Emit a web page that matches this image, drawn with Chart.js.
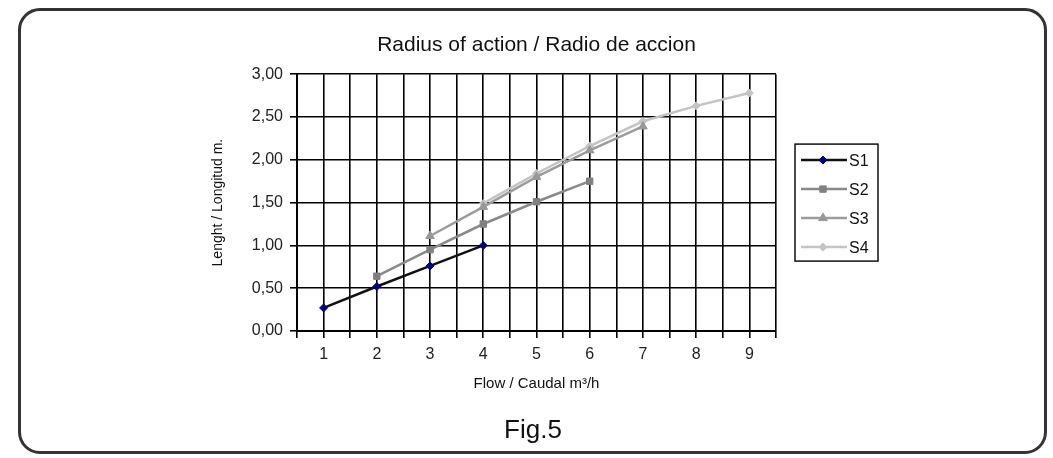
<!DOCTYPE html>
<html>
<head>
<meta charset="utf-8">
<script src="https://cdn.jsdelivr.net/npm/chart.js@4/dist/chart.umd.min.js"></script>
<style>
  html, body { margin: 0; padding: 0; background: #fff; }
  #wrap { position: relative; width: 1053px; height: 458px; overflow: hidden; }
  #frame {
    position: absolute; left: 18px; top: 8px; width: 1029px; height: 446px;
    border: 3px solid #333; border-radius: 22px; box-sizing: border-box;
  }
  #fig {
    position: absolute; left: 433px; top: 414px; width: 200px; line-height: 30px;
    text-align: center; font: 26px "Liberation Sans", Arial, sans-serif; color: #111;
  }
  #chart { position: absolute; left: 0; top: 0; }
</style>
</head>
<body>
<div id="wrap">
  <div id="frame"></div>
  <canvas id="chart" width="1053" height="458"></canvas>
  <div id="fig">Fig.5</div>
</div>
<script>
// flow values (m3/h) and length (m) per series, null = no point
let flow = [1, 2, 3, 4, 5, 6, 7, 8, 9];
let s1 = [0.27, 0.52, 0.76, 1.00, null, null, null, null, null];
let s2 = [null, 0.64, 0.95, 1.25, 1.51, 1.75, null, null, null];
let s3 = [null, null, 1.11, 1.45, 1.80, 2.11, 2.39, null, null];
let s4 = [null, null, null, 1.49, 1.84, 2.16, 2.45, 2.63, 2.78];
let seriesNames = ['S1', 'S2', 'S3', 'S4'];

function points(arr) {
    let out = [];
    arr.forEach((v, i) => { if (v !== null) out.push({ x: flow[i], y: v }); });
    return out;
}

Chart.defaults.font.family = '"Liberation Sans", Arial, sans-serif';
Chart.defaults.color = '#222';

// legend box with line + marker samples, like the old spreadsheet one
const boxLegend = {
    id: 'boxLegend',
    afterDraw(chart) {
        const ctx = chart.ctx;
        const area = chart.chartArea;
        const x0 = area.right + 19, w = 83, h = 117;
        const y0 = (area.top + area.bottom) / 2 - h / 2;
        ctx.save();
        ctx.fillStyle = '#fff';
        ctx.fillRect(x0, y0, w, h);
        ctx.strokeStyle = '#111';
        ctx.lineWidth = 1.5;
        ctx.strokeRect(x0, y0, w, h);
        chart.data.datasets.forEach((ds, i) => {
            const y = y0 + 16 + i * 29;
            ctx.strokeStyle = ds.borderColor;
            ctx.lineWidth = ds.borderWidth;
            ctx.beginPath();
            ctx.moveTo(x0 + 6, y);
            ctx.lineTo(x0 + 52, y);
            ctx.stroke();
            ctx.fillStyle = ds.pointBackgroundColor;
            ctx.strokeStyle = ds.pointBorderColor;
            ctx.lineWidth = 1;
            Chart.helpers.drawPoint(ctx, {
                pointStyle: ds.pointStyle, radius: ds.pointRadius, rotation: 0, borderWidth: 1
            }, x0 + 28, y);
            ctx.fillStyle = '#111';
            ctx.font = '16px "Liberation Sans", Arial, sans-serif';
            ctx.textBaseline = 'middle';
            ctx.fillText(ds.label, x0 + 54, y + 1);
        });
        ctx.restore();
    }
};

function series(i, data, line, marker, style, r) {
    return {
        label: seriesNames[i],
        data: points(data),
        borderColor: line,
        borderWidth: 2.5,
        pointStyle: style,
        pointRadius: r,
        pointHoverRadius: r,
        pointBackgroundColor: marker,
        pointBorderColor: marker,
        pointBorderWidth: 1,
        fill: false,
        tension: 0
    };
}

new Chart(document.getElementById('chart'), {
    type: 'line',
    data: {
        datasets: [
            series(0, s1, '#111111', '#000080', 'rectRot', 4),
            series(1, s2, '#8a8a8a', '#808080', 'rect', 4.5),
            series(2, s3, '#9c9c9c', '#989898', 'triangle', 5),
            series(3, s4, '#c4c4c4', '#c4c4c4', 'rectRot', 4)
        ]
    },
    options: {
        responsive: false,
        animation: false,
        layout: { padding: { left: 200, right: 277, top: 0, bottom: 55 } },
        plugins: {
            legend: { display: false },
            tooltip: { enabled: false },
            title: {
                display: true,
                fullSize: false,
                text: 'Radius of action / Radio de accion',
                font: { size: 21, weight: 'normal' },
                color: '#111',
                padding: { top: 33, bottom: 16 }
            }
        },
        scales: {
            x: {
                type: 'linear',
                min: 0.5,
                max: 9.5,
                afterFit: (s) => { s.height = 72; },
                ticks: {
                    stepSize: 0.5,
                    autoSkip: false,
                    maxRotation: 0,
                    padding: 7,
                    font: { size: 16 },
                    callback: (v) => Number.isInteger(v) ? String(v) : ''
                },
                grid: { color: '#000', lineWidth: 1.6, tickLength: 7 },
                border: { color: '#000', width: 2 },
                title: {
                    display: true,
                    text: 'Flow / Caudal m³/h',
                    font: { size: 15 },
                    color: '#111',
                    padding: { top: 0, bottom: 10 }
                }
            },
            y: {
                min: 0,
                max: 3,
                afterFit: (s) => { s.width = 97; },
                ticks: {
                    stepSize: 0.5,
                    padding: 7,
                    font: { size: 16 },
                    callback: (v) => v.toFixed(2).replace('.', ',')
                },
                grid: { color: '#000', lineWidth: 1.6, tickLength: 7 },
                border: { color: '#000', width: 2 },
                title: {
                    display: true,
                    text: 'Lenght / Longitud m.',
                    font: { size: 14 },
                    color: '#111',
                    padding: { top: 10, bottom: 0 }
                }
            }
        }
    },
    plugins: [boxLegend]
});
</script>
</body>
</html>
